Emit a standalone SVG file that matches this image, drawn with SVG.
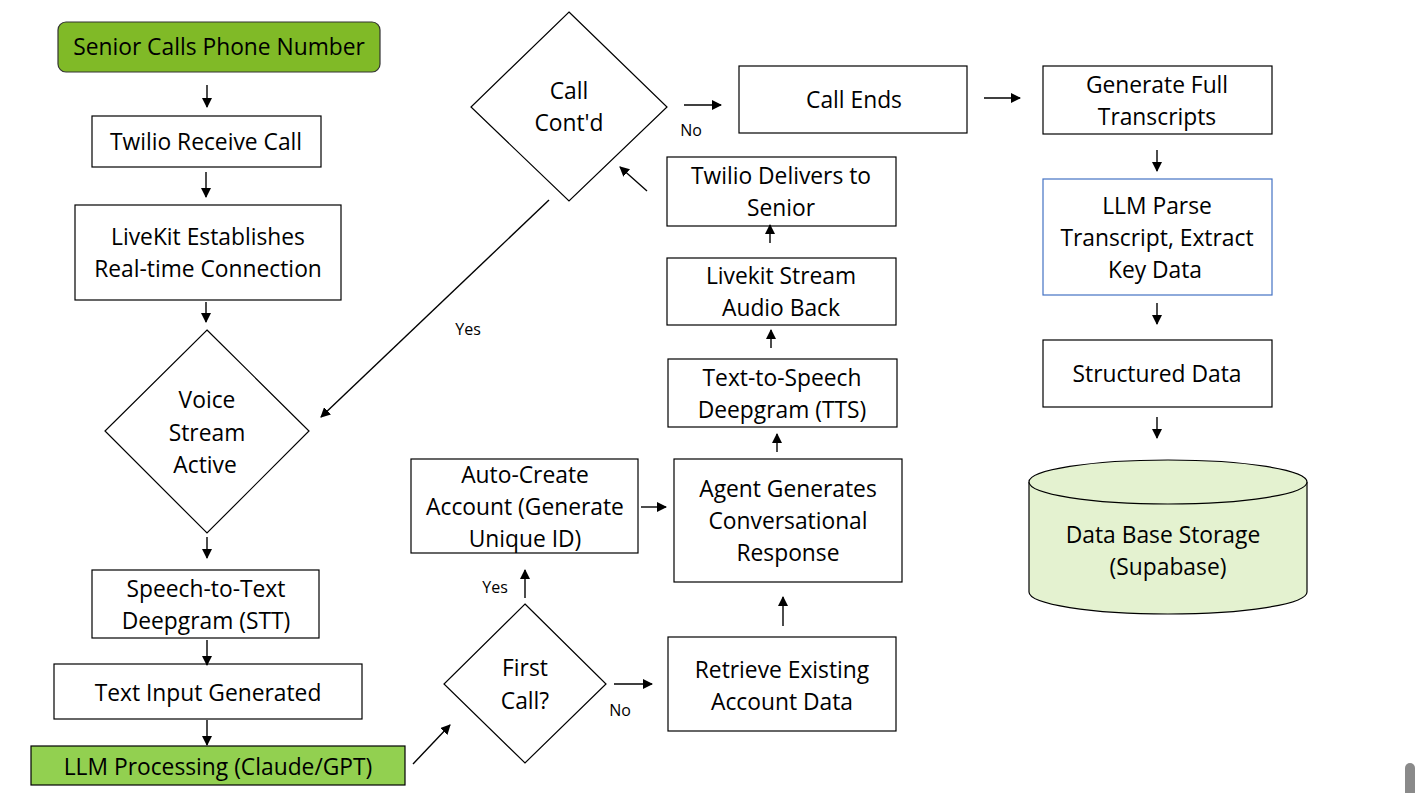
<svg xmlns="http://www.w3.org/2000/svg" width="1416" height="793" viewBox="0 0 1416 793">
<defs>
<marker id="ah" viewBox="0 0 10 10" refX="9" refY="5" markerWidth="10" markerHeight="10" markerUnits="userSpaceOnUse" orient="auto">
<path d="M0,0 L10,5 L0,10 z" fill="#000"/>
</marker>
<style>
.box{fill:#fff;stroke:#000;stroke-width:1.2}
.t{font-family:"Open Sans","Liberation Sans",sans-serif;font-size:22.8px;fill:#000;text-anchor:middle}
.s{font-family:"Open Sans","Liberation Sans",sans-serif;font-size:16px;fill:#000;text-anchor:middle}
.c{stroke:#000;stroke-width:1.4;fill:none;marker-end:url(#ah)}
</style>
</defs>
<rect width="1416" height="793" fill="#fff"/>
<g id="n-senior"><rect x="58" y="22" width="322" height="50" rx="8" fill="#80ba27" stroke="#333" stroke-width="1.2"/><text class="t" x="219" y="55">Senior Calls Phone Number</text></g>
<g id="n-twilio"><rect class="box" x="92" y="116" width="229" height="51"/><text class="t" x="206" y="150">Twilio Receive Call</text></g>
<g id="n-livekit"><rect class="box" x="75" y="205" width="266" height="95"/><text class="t" x="208" y="245">LiveKit Establishes</text><text class="t" x="208" y="277">Real-time Connection</text></g>
<g id="n-voice"><polygon class="box" points="207,330 309,431 207,533 105,431"/><text class="t" x="207" y="408">Voice</text><text class="t" x="207" y="441">Stream</text><text class="t" x="205" y="473">Active</text></g>
<g id="n-stt"><rect class="box" x="92" y="570" width="227" height="68"/><text class="t" x="206" y="597">Speech-to-Text</text><text class="t" x="206" y="629">Deepgram (STT)</text></g>
<g id="n-textin"><rect class="box" x="54" y="664" width="308" height="55"/><text class="t" x="208" y="701">Text Input Generated</text></g>
<g id="n-llm"><rect x="31" y="746" width="374" height="39" fill="#92d050" stroke="#000" stroke-width="1.2"/><text class="t" x="218" y="775">LLM Processing (Claude/GPT)</text></g>
<g id="n-first"><polygon class="box" points="525,604 606,684 525,763 444,684"/><text class="t" x="525" y="676">First</text><text class="t" x="525" y="709">Call?</text></g>
<g id="n-auto"><rect class="box" x="411" y="459" width="227" height="94"/><text class="t" x="525" y="483">Auto-Create</text><text class="t" x="525" y="515">Account (Generate</text><text class="t" x="525" y="547">Unique ID)</text></g>
<g id="n-retrieve"><rect class="box" x="668" y="637" width="228" height="94"/><text class="t" x="782" y="678">Retrieve Existing</text><text class="t" x="782" y="710">Account Data</text></g>
<g id="n-agent"><rect class="box" x="674" y="459" width="228" height="123"/><text class="t" x="788" y="497">Agent Generates</text><text class="t" x="788" y="529">Conversational</text><text class="t" x="788" y="561">Response</text></g>
<g id="n-tts"><rect class="box" x="668" y="359" width="229" height="68"/><text class="t" x="782" y="386">Text-to-Speech</text><text class="t" x="782" y="418">Deepgram (TTS)</text></g>
<g id="n-lkstream"><rect class="box" x="667" y="258" width="229" height="67"/><text class="t" x="781" y="284">Livekit Stream</text><text class="t" x="781" y="316">Audio Back</text></g>
<g id="n-deliver"><rect class="box" x="667" y="157" width="229" height="69"/><text class="t" x="781" y="184">Twilio Delivers to</text><text class="t" x="781" y="216">Senior</text></g>
<g id="n-contd"><polygon class="box" points="569,12 667,107 569,201 471,107"/><text class="t" x="569" y="99">Call</text><text class="t" x="569" y="131">Cont'd</text></g>
<g id="n-ends"><rect class="box" x="739" y="66" width="228" height="67"/><text class="t" x="854" y="108">Call Ends</text></g>
<g id="n-transcripts"><rect class="box" x="1043" y="66" width="229" height="68"/><text class="t" x="1157" y="93">Generate Full</text><text class="t" x="1157" y="125">Transcripts</text></g>
<g id="n-parse"><rect x="1043" y="179" width="229" height="116" fill="#fff" stroke="#4472c4" stroke-width="1.2"/><text class="t" x="1157" y="214">LLM Parse</text><text class="t" x="1157" y="246">Transcript, Extract</text><text class="t" x="1155" y="278">Key Data</text></g>
<g id="n-structured"><rect class="box" x="1043" y="340" width="229" height="67"/><text class="t" x="1157" y="382">Structured Data</text></g>
<g id="n-db"><path d="M1029,482 L1029,592 A139,22 0 0 0 1307,592 L1307,482" fill="#e4f2d0" stroke="#000" stroke-width="1.2"/><ellipse cx="1168" cy="482" rx="139" ry="22" fill="#e4f2d0" stroke="#000" stroke-width="1.2"/><text class="t" x="1163" y="543">Data Base Storage</text><text class="t" x="1168" y="575">(Supabase)</text></g>
<g id="connectors">
<line class="c" x1="207" y1="85" x2="207" y2="107"/>
<line class="c" x1="206" y1="172" x2="206" y2="197"/>
<line class="c" x1="206" y1="302" x2="206" y2="322"/>
<line class="c" x1="207" y1="537" x2="207" y2="558"/>
<line class="c" x1="207" y1="640" x2="207" y2="665"/>
<line class="c" x1="207" y1="720" x2="207" y2="745"/>
<line class="c" x1="413" y1="764" x2="450" y2="725"/>
<line class="c" x1="525" y1="598" x2="525" y2="570"/>
<line class="c" x1="614" y1="684" x2="652" y2="684"/>
<line class="c" x1="641" y1="507" x2="666" y2="507"/>
<line class="c" x1="783" y1="626" x2="783" y2="597"/>
<line class="c" x1="777" y1="452" x2="777" y2="434"/>
<line class="c" x1="771" y1="348" x2="771" y2="330"/>
<line class="c" x1="770" y1="243" x2="770" y2="225"/>
<line class="c" x1="647" y1="191" x2="620" y2="167"/>
<line class="c" x1="684" y1="105" x2="721" y2="105"/>
<line class="c" x1="549" y1="200" x2="321" y2="417"/>
<line class="c" x1="984" y1="98" x2="1020" y2="98"/>
<line class="c" x1="1157" y1="150" x2="1157" y2="171"/>
<line class="c" x1="1157" y1="303" x2="1157" y2="324"/>
<line class="c" x1="1157" y1="417" x2="1157" y2="438"/>
<text class="s" x="691" y="136">No</text>
<text class="s" x="468" y="335">Yes</text>
<text class="s" x="495" y="593">Yes</text>
<text class="s" x="620" y="716">No</text>
</g>
<rect x="1405" y="763" width="10" height="34" rx="5" fill="#8a8a8a"/>
</svg>
